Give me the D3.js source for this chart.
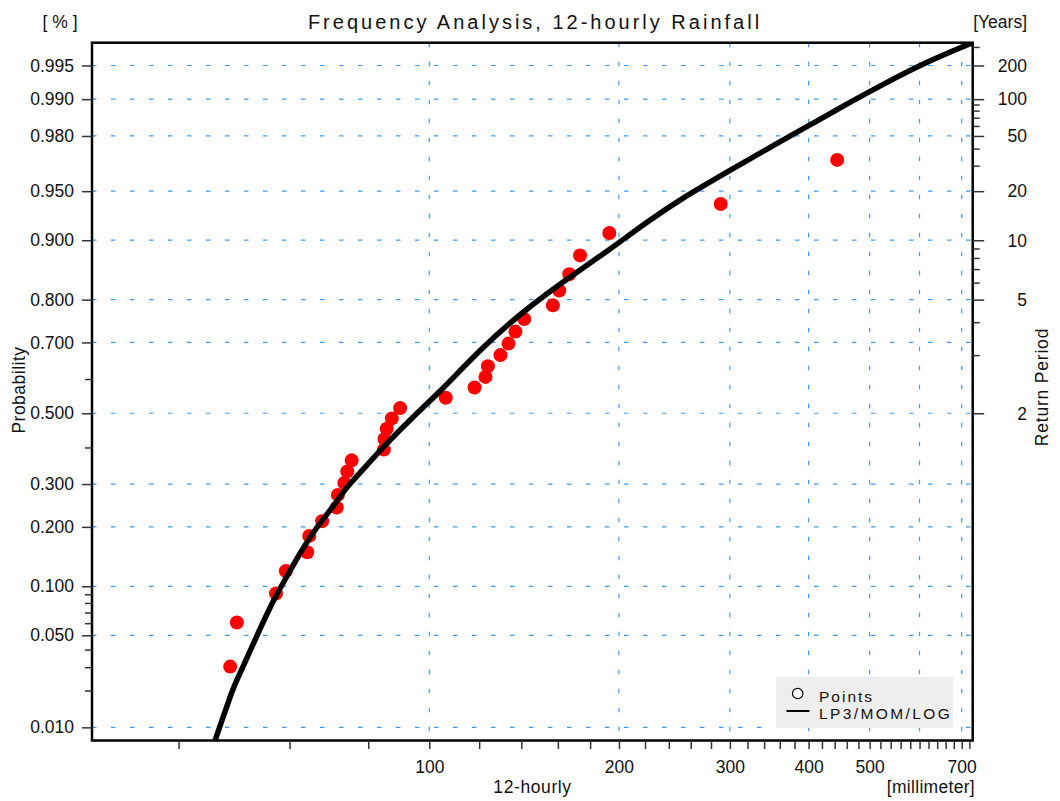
<!DOCTYPE html>
<html>
<head>
<meta charset="utf-8">
<script src="https://cdn.jsdelivr.net/npm/d3@7"></script>
<style>
  html, body { margin: 0; padding: 0; background: #ffffff; }
  svg { display: block; font-family: "Liberation Sans", Arial, sans-serif; }
</style>
</head>
<body>
<svg id="chart" width="1060" height="801"></svg>
<script>
// ---------------- data ----------------
const titleText = "Frequency Analysis, 12-hourly Rainfall";
const xDomainMM = [29.15, 728.7];
const probDomain = [0.00768, 0.99697];

// observed points (rainfall mm, non-exceedance probability)
const obsRainfall = [48.3, 49.5, 57.1, 59.2, 64.0, 64.5, 67.6, 71.3, 71.6, 73.3, 74.1, 75.3,
  84.7, 84.9, 85.6, 87.2, 89.9, 106.2, 118.0, 122.8, 123.9, 129.7, 133.6, 137.0,
  141.5, 157.1, 160.8, 166.8, 173.5, 193.1, 290.1, 444.1];
const obsProb = [0.0303, 0.0606, 0.0909, 0.1212, 0.1515, 0.1818, 0.2121, 0.2424, 0.2727,
  0.3030, 0.3333, 0.3636, 0.3939, 0.4242, 0.4545, 0.4848, 0.5152, 0.5455, 0.5758, 0.6061,
  0.6364, 0.6667, 0.6970, 0.7273, 0.7576, 0.7879, 0.8182, 0.8485, 0.8788, 0.9091, 0.9394, 0.9697];

// fitted LP3/MOM/LOG curve
const fitRainfall = [45.7, 47.1, 48.9, 50.1, 52.6, 56.2, 59.4, 62.3, 66.3, 70.4, 74.0, 76.7,
  84.5, 95.5, 104.0, 120.6, 141.1, 167.2, 193.1, 220.0, 254.0, 300.9, 356.5, 406.3,
  462.9, 527.7, 616.9, 721.6];
const fitProb = [0.00767, 0.0123, 0.0214, 0.0271, 0.0442, 0.0797, 0.1131, 0.1499, 0.2005,
  0.2445, 0.2933, 0.3193, 0.4023, 0.5000, 0.5630, 0.6830, 0.7760, 0.8440, 0.8868, 0.9203,
  0.9457, 0.9642, 0.9772, 0.9841, 0.9892, 0.9927, 0.9954, 0.9969];

// axes
const probMajor = [0.995, 0.99, 0.98, 0.95, 0.9, 0.8, 0.7, 0.5, 0.3, 0.2, 0.1, 0.05, 0.01];
const probMinor = [0.6, 0.4, 0.09, 0.08, 0.07, 0.06, 0.04, 0.03, 0.02];
const returnMajor = [200, 100, 50, 20, 10, 5, 2];
const returnMinor = [300, 90, 80, 70, 60, 40, 30, 9, 8, 7, 6, 4, 3];
const mmLabels = [100, 200, 300, 400, 500, 700];
const mmGrid = [100, 200, 300, 400, 500, 600, 700];
const legendLabels = ["Points", "LP3/MOM/LOG"];

// ---------------- helpers ----------------
function probit(p) {
  const a = [-3.969683028665376e+01, 2.209460984245205e+02, -2.759285104469687e+02,
             1.383577518672690e+02, -3.066479806614716e+01, 2.506628277459239e+00];
  const b = [-5.447609879822406e+01, 1.615858368580409e+02, -1.556989798598866e+02,
             6.680131188771972e+01, -1.328068155288572e+01];
  const c = [-7.784894002430293e-03, -3.223964580411365e-01, -2.400758277161838e+00,
             -2.549732539343734e+00, 4.374664141464968e+00, 2.938163982698783e+00];
  const d = [7.784695709041462e-03, 3.224671290700398e-01, 2.445134137142996e+00,
             3.754408661907416e+00];
  const pl = 0.02425, ph = 1 - pl;
  let q, r;
  if (p < pl) {
    q = Math.sqrt(-2 * Math.log(p));
    return (((((c[0]*q+c[1])*q+c[2])*q+c[3])*q+c[4])*q+c[5]) / ((((d[0]*q+d[1])*q+d[2])*q+d[3])*q+1);
  } else if (p <= ph) {
    q = p - 0.5; r = q * q;
    return (((((a[0]*r+a[1])*r+a[2])*r+a[3])*r+a[4])*r+a[5])*q / (((((b[0]*r+b[1])*r+b[2])*r+b[3])*r+b[4])*r+1);
  } else {
    q = Math.sqrt(-2 * Math.log(1 - p));
    return -(((((c[0]*q+c[1])*q+c[2])*q+c[3])*q+c[4])*q+c[5]) / ((((d[0]*q+d[1])*q+d[2])*q+d[3])*q+1);
  }
}

// ---------------- layout ----------------
const P = { left: 92, top: 42.7, right: 972.7, bottom: 740.5 };
const svg = d3.select("#chart");

const x = d3.scaleLog().domain(xDomainMM).range([P.left, P.right]);
const zScale = d3.scaleLinear().domain(probDomain.map(probit)).range([P.bottom, P.top]);
const y = p => zScale(probit(p));

const gridColor = "#3d9af0";
const tickColor = "#333333";

// clip
svg.append("defs").append("clipPath").attr("id", "plotclip")
  .append("rect").attr("x", P.left).attr("y", P.top)
  .attr("width", P.right - P.left).attr("height", P.bottom - P.top);

// grid horizontal
svg.append("g").selectAll("line").data(probMajor).join("line")
  .attr("x1", P.left).attr("x2", P.right)
  .attr("y1", d => y(d)).attr("y2", d => y(d))
  .attr("stroke", gridColor).attr("stroke-width", 1.2)
  .attr("stroke-dasharray", "4.5,14.5");

// grid vertical
svg.append("g").selectAll("line").data(mmGrid).join("line")
  .attr("x1", d => x(d)).attr("x2", d => x(d))
  .attr("y1", P.top).attr("y2", P.bottom)
  .attr("stroke", gridColor).attr("stroke-width", 1.2)
  .attr("stroke-dasharray", "4.5,14.5");

// legend box
const lg = svg.append("g");
lg.append("rect").attr("x", 776).attr("y", 677).attr("width", 177).attr("height", 51)
  .attr("fill", "#eeeeee");

// observed points
svg.append("g").attr("clip-path", "url(#plotclip)")
  .selectAll("circle").data(obsRainfall).join("circle")
  .attr("cx", d => x(d)).attr("cy", (d, i) => y(obsProb[i]))
  .attr("r", 7).attr("fill", "#ff0000");

// fitted curve
const fitData = fitRainfall.map((v, i) => [v, fitProb[i]]);
svg.append("path").datum(fitData)
  .attr("clip-path", "url(#plotclip)")
  .attr("d", d3.line().curve(d3.curveBasis).x(d => x(d[0])).y(d => y(d[1])))
  .attr("fill", "none").attr("stroke", "#000").attr("stroke-width", 5.5)
  .attr("stroke-linejoin", "round").attr("stroke-linecap", "round");

// frame
svg.append("rect").attr("x", P.left).attr("y", P.top)
  .attr("width", P.right - P.left).attr("height", P.bottom - P.top)
  .attr("fill", "none").attr("stroke", "#000").attr("stroke-width", 2.5);

// left axis
const fmt = d3.format(".3f");
const leftAxis = d3.axisLeft(zScale).tickValues(probMajor.map(probit))
  .tickSize(10).tickPadding(8).tickFormat((d, i) => fmt(probMajor[i]));
const gl = svg.append("g").attr("transform", `translate(${P.left},0)`).call(leftAxis);
gl.select(".domain").remove();
gl.selectAll("line").attr("stroke", tickColor).attr("stroke-width", 1.5);
gl.selectAll("text").attr("font-size", 17.5).attr("fill", "#111").attr("font-family", "Liberation Sans, Arial, sans-serif");
const glm = d3.axisLeft(zScale).tickValues(probMinor.map(probit)).tickSize(7).tickFormat("");
const glmG = svg.append("g").attr("transform", `translate(${P.left},0)`).call(glm);
glmG.select(".domain").remove();
glmG.selectAll("line").attr("stroke", tickColor).attr("stroke-width", 1.5);

// right axis (return period)
const rightAxis = d3.axisRight(zScale).tickValues(returnMajor.map(t => probit(1 - 1 / t)))
  .tickSize(11.5).tickPadding(0).tickFormat("");
const gr = svg.append("g").attr("transform", `translate(${P.right},0)`).call(rightAxis);
gr.select(".domain").remove();
gr.selectAll("line").attr("stroke", tickColor).attr("stroke-width", 1.5);
svg.append("g").selectAll("text").data(returnMajor).join("text")
  .attr("x", 1027).attr("y", t => y(1 - 1 / t)).attr("dy", "0.36em")
  .attr("text-anchor", "end").attr("font-size", 17.5).attr("fill", "#111")
  .text(t => t);
const grm = d3.axisRight(zScale).tickValues(returnMinor.map(t => probit(1 - 1 / t)).filter(z => zScale(z) >= P.top))
  .tickSize(7).tickFormat("");
const grmG = svg.append("g").attr("transform", `translate(${P.right},0)`).call(grm);
grmG.select(".domain").remove();
grmG.selectAll("line").attr("stroke", tickColor).attr("stroke-width", 1.5);

// bottom axis
const bottomAxis = d3.axisBottom(x).tickValues(d3.range(40, 721, 20))
  .tickSize(8.5).tickPadding(12)
  .tickFormat(d => mmLabels.includes(d) ? String(d) : "");
const gb = svg.append("g").attr("transform", `translate(0,${P.bottom})`).call(bottomAxis);
gb.select(".domain").remove();
gb.selectAll("line").attr("stroke", tickColor).attr("stroke-width", 1.5);
gb.selectAll("text").attr("font-size", 17.5).attr("fill", "#111").attr("font-family", "Liberation Sans, Arial, sans-serif");

// titles
svg.append("text").attr("x", 535).attr("y", 29).attr("text-anchor", "middle")
  .attr("font-size", 20).attr("letter-spacing", "3px").attr("fill", "#111").text(titleText);
svg.append("text").attr("x", 60).attr("y", 28).attr("text-anchor", "middle")
  .attr("font-size", 17.5).attr("fill", "#111").attr("xml:space", "preserve").text("[ % ]");
svg.append("text").attr("x", 1027).attr("y", 28).attr("text-anchor", "end")
  .attr("font-size", 17.5).attr("fill", "#111").text("[Years]");
svg.append("text").attr("transform", "translate(25,390) rotate(-90)").attr("text-anchor", "middle")
  .attr("font-size", 17.5).attr("fill", "#111").attr("letter-spacing", "0.5px").text("Probability");
svg.append("text").attr("transform", "translate(1048,387) rotate(-90)").attr("text-anchor", "middle")
  .attr("font-size", 17.5).attr("fill", "#111").attr("letter-spacing", "0.8px").text("Return Period");
svg.append("text").attr("x", 532.5).attr("y", 793).attr("text-anchor", "middle")
  .attr("font-size", 17.5).attr("fill", "#111").attr("letter-spacing", "0.6px").text("12-hourly");
svg.append("text").attr("x", 975).attr("y", 793).attr("text-anchor", "end")
  .attr("font-size", 17.5).attr("fill", "#111").attr("letter-spacing", "0.3px").text("[millimeter]");

// legend contents
lg.append("circle").attr("cx", 797.7).attr("cy", 693.5).attr("r", 5.2)
  .attr("fill", "#fff").attr("stroke", "#000").attr("stroke-width", 1.2);
lg.append("line").attr("x1", 786.5).attr("x2", 809.5).attr("y1", 711).attr("y2", 711)
  .attr("stroke", "#000").attr("stroke-width", 2);
lg.selectAll("text").data(legendLabels).join("text")
  .attr("x", 819).attr("y", (d, i) => 701.5 + i * 17.5)
  .attr("font-size", 15.5).attr("letter-spacing", (d, i) => i ? "2.4px" : "2px")
  .attr("fill", "#111").text(d => d);
</script>
</body>
</html>
